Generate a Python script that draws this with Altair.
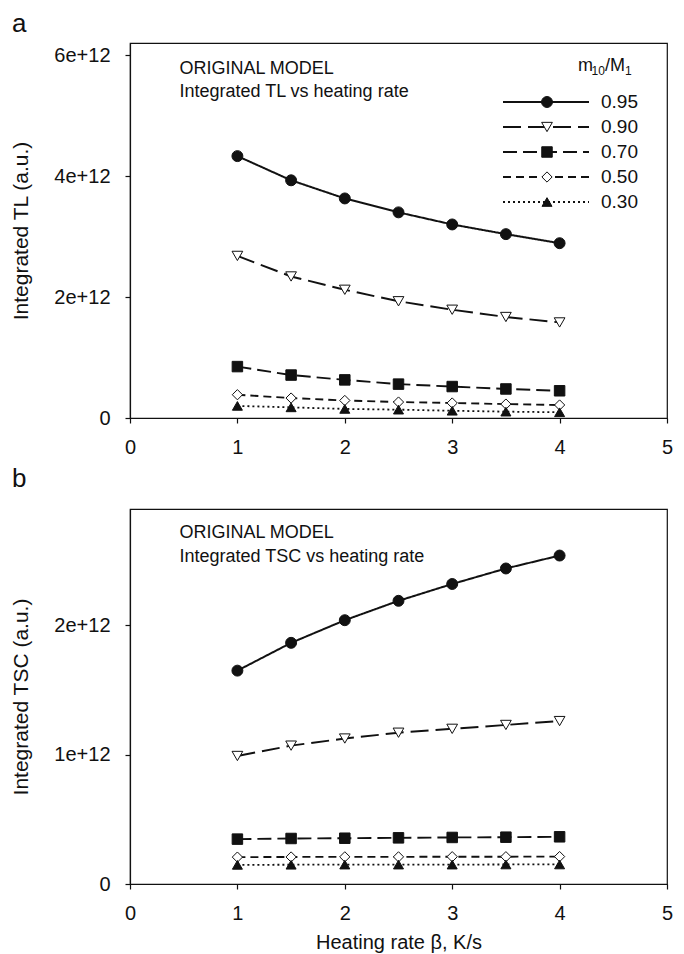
import altair as alt
import pandas as pd

# ---------------- data ----------------
beta = [1.0, 1.5, 2.0, 2.5, 3.0, 3.5, 4.0]
ratios = ["0.95", "0.90", "0.70", "0.50", "0.30"]

# panel a: integrated TL (a.u.)
tl_095 = [4.33e12, 3.93e12, 3.63e12, 3.40e12, 3.20e12, 3.04e12, 2.89e12]
tl_090 = [2.68e12, 2.34e12, 2.12e12, 1.93e12, 1.79e12, 1.67e12, 1.58e12]
tl_070 = [0.85e12, 0.71e12, 0.63e12, 0.56e12, 0.52e12, 0.48e12, 0.45e12]
tl_050 = [0.385e12, 0.33e12, 0.29e12, 0.264e12, 0.248e12, 0.23e12, 0.215e12]
tl_030 = [0.20e12, 0.176e12, 0.15e12, 0.138e12, 0.12e12, 0.105e12, 0.095e12]

# panel b: integrated TSC (a.u.)
tsc_095 = [1.65e12, 1.865e12, 2.04e12, 2.19e12, 2.32e12, 2.44e12, 2.54e12]
tsc_090 = [0.99e12, 1.07e12, 1.125e12, 1.17e12, 1.20e12, 1.23e12, 1.26e12]
tsc_070 = [0.347e12, 0.352e12, 0.354e12, 0.357e12, 0.36e12, 0.362e12, 0.365e12]
tsc_050 = [0.208e12, 0.209e12, 0.21e12, 0.21e12, 0.211e12, 0.211e12, 0.212e12]
tsc_030 = [0.148e12, 0.149e12, 0.15e12, 0.15e12, 0.15e12, 0.151e12, 0.151e12]

x_ticks = [0, 1, 2, 3, 4, 5]
y_ticks_a = [0, 2e12, 4e12, 6e12]
y_ticks_b = [0, 1e12, 2e12]

notes_a = ["ORIGINAL MODEL", "Integrated TL vs heating rate"]
notes_b = ["ORIGINAL MODEL", "Integrated TSC vs heating rate"]


def long_df(series_list):
    rows = []
    for r, vals in zip(ratios, series_list):
        for b, v in zip(beta, vals):
            rows.append({"beta": b, "value": v, "ratio": r})
    return pd.DataFrame(rows)


df_a = long_df([tl_095, tl_090, tl_070, tl_050, tl_030])
df_b = long_df([tsc_095, tsc_090, tsc_070, tsc_050, tsc_030])
leg_df = pd.DataFrame({"ratio": ratios, "row": list(range(len(ratios)))})

# ---------------- styles ----------------
INK = "#111111"
FONT = "Liberation Sans"
dash_range = [[1, 0], [18, 7], [14, 6], [8, 5], [2, 3]]
shape_range = ["circle", "triangle-down", "square", "diamond", "triangle-up"]
fill_range = [INK, "white", INK, "white", INK]
size_range = [120, 100, 82, 155, 95]
width_range = [2.0, 1.8, 1.8, 1.8, 1.6]

dash = alt.StrokeDash("ratio:N", scale=alt.Scale(domain=ratios, range=dash_range), legend=None)
shape = alt.Shape("ratio:N", scale=alt.Scale(domain=ratios, range=shape_range), legend=None)
fill = alt.Fill("ratio:N", scale=alt.Scale(domain=ratios, range=fill_range), legend=None)
size = alt.Size("ratio:N", scale=alt.Scale(domain=ratios, range=size_range), legend=None)
sw = alt.StrokeWidth("ratio:N", scale=alt.Scale(domain=ratios, range=width_range), legend=None)

W, H = 537, 375


def text_layer(txt, xx, yy, fs, align="left", baseline="alphabetic"):
    return alt.Chart(pd.DataFrame({"t": [txt]})).mark_text(
        align=align, baseline=baseline, fontSize=fs, color=INK, font=FONT
    ).encode(x=alt.value(xx), y=alt.value(yy), text="t:N")


def make_panel(df, ymax, yticks, ytitle, letter, letter_y, notes, note_ys,
               legend=False, xtitle=None):
    xenc = alt.X("beta:Q", scale=alt.Scale(domain=[0, 5], nice=False, zero=False),
                 axis=alt.Axis(values=x_ticks, format="d", labelFlush=False),
                 title=xtitle)
    yenc = alt.Y("value:Q", scale=alt.Scale(domain=[0, ymax], nice=False),
                 axis=alt.Axis(values=yticks, labelFlush=False,
                               labelExpr="datum.value == 0 ? '0' : format(datum.value / 1e12, 'd') + 'e+12'"),
                 title=ytitle)
    lines = alt.Chart(df).mark_line(color=INK).encode(
        x=xenc, y=yenc, strokeDash=dash, strokeWidth=sw, detail="ratio:N")
    pts = alt.Chart(df).mark_point(filled=True, stroke=INK, strokeWidth=1, opacity=1).encode(
        x=xenc, y=yenc, shape=shape, fill=fill, size=size)
    layers = [lines, pts]
    for txt, yy in zip(notes, note_ys):
        layers.append(text_layer(txt, 49.5, yy, 18, baseline="middle"))
    layers.append(text_layer(letter, -118, letter_y, 26))
    data_layer = alt.layer(*layers)

    if legend:
        row = alt.Y("row:Q", scale=alt.Scale(domain=[0, 4], range=[59, 159]), axis=None)
        lrule = alt.Chart(leg_df).mark_rule(color=INK).encode(
            x=alt.value(373), x2=alt.value(459), y=row, strokeDash=dash, strokeWidth=sw)
        lpts = alt.Chart(leg_df).mark_point(filled=True, stroke=INK, strokeWidth=1, opacity=1).encode(
            x=alt.value(417), y=row, shape=shape, fill=fill, size=size)
        ltxt = alt.Chart(leg_df).mark_text(
            align="left", baseline="middle", fontSize=19, color=INK, font=FONT
        ).encode(x=alt.value(471), y=row, text="ratio:N")
        # legend heading m10/M1 with subscripts
        heading = [text_layer("m", 448, 28, 18), text_layer("10", 461.5, 32, 12),
                   text_layer("/M", 475, 28, 18), text_layer("1", 495, 32, 12)]
        leg_layer = alt.layer(lrule, lpts, ltxt, *heading)
        panel = alt.layer(data_layer, leg_layer).resolve_scale(y="independent")
    else:
        panel = data_layer

    return panel.properties(width=W, height=H)


panel_a = make_panel(df_a, 6.2e12, y_ticks_a, "Integrated TL (a.u.)", "a", -11,
                     notes_a, [26, 49], legend=True)
panel_b = make_panel(df_b, 2.9e12, y_ticks_b, "Integrated TSC (a.u.)", "b", -22,
                     notes_b, [24, 48], legend=False, xtitle="Heating rate \u03b2, K/s")

chart = alt.vconcat(panel_a, panel_b, spacing=7).properties(
    padding={"left": 2, "top": 2, "right": 0, "bottom": 0}
).configure(
    font=FONT
).configure_view(
    stroke=INK, strokeWidth=1.2
).configure_axis(
    grid=False, domainColor=INK, domainWidth=1.2, tickColor=INK, tickWidth=1.2, tickSize=5,
    labelFontSize=20, labelColor=INK, titleColor=INK,
    titleFontWeight="normal", labelFont=FONT, titleFont=FONT,
).configure_axisX(
    labelPadding=14, titlePadding=9, titleFontSize=20,
).configure_axisY(
    labelPadding=15, titlePadding=22, titleFontSize=21,
)

chart.save("out.html", embed_options={"renderer": "svg", "actions": False})
